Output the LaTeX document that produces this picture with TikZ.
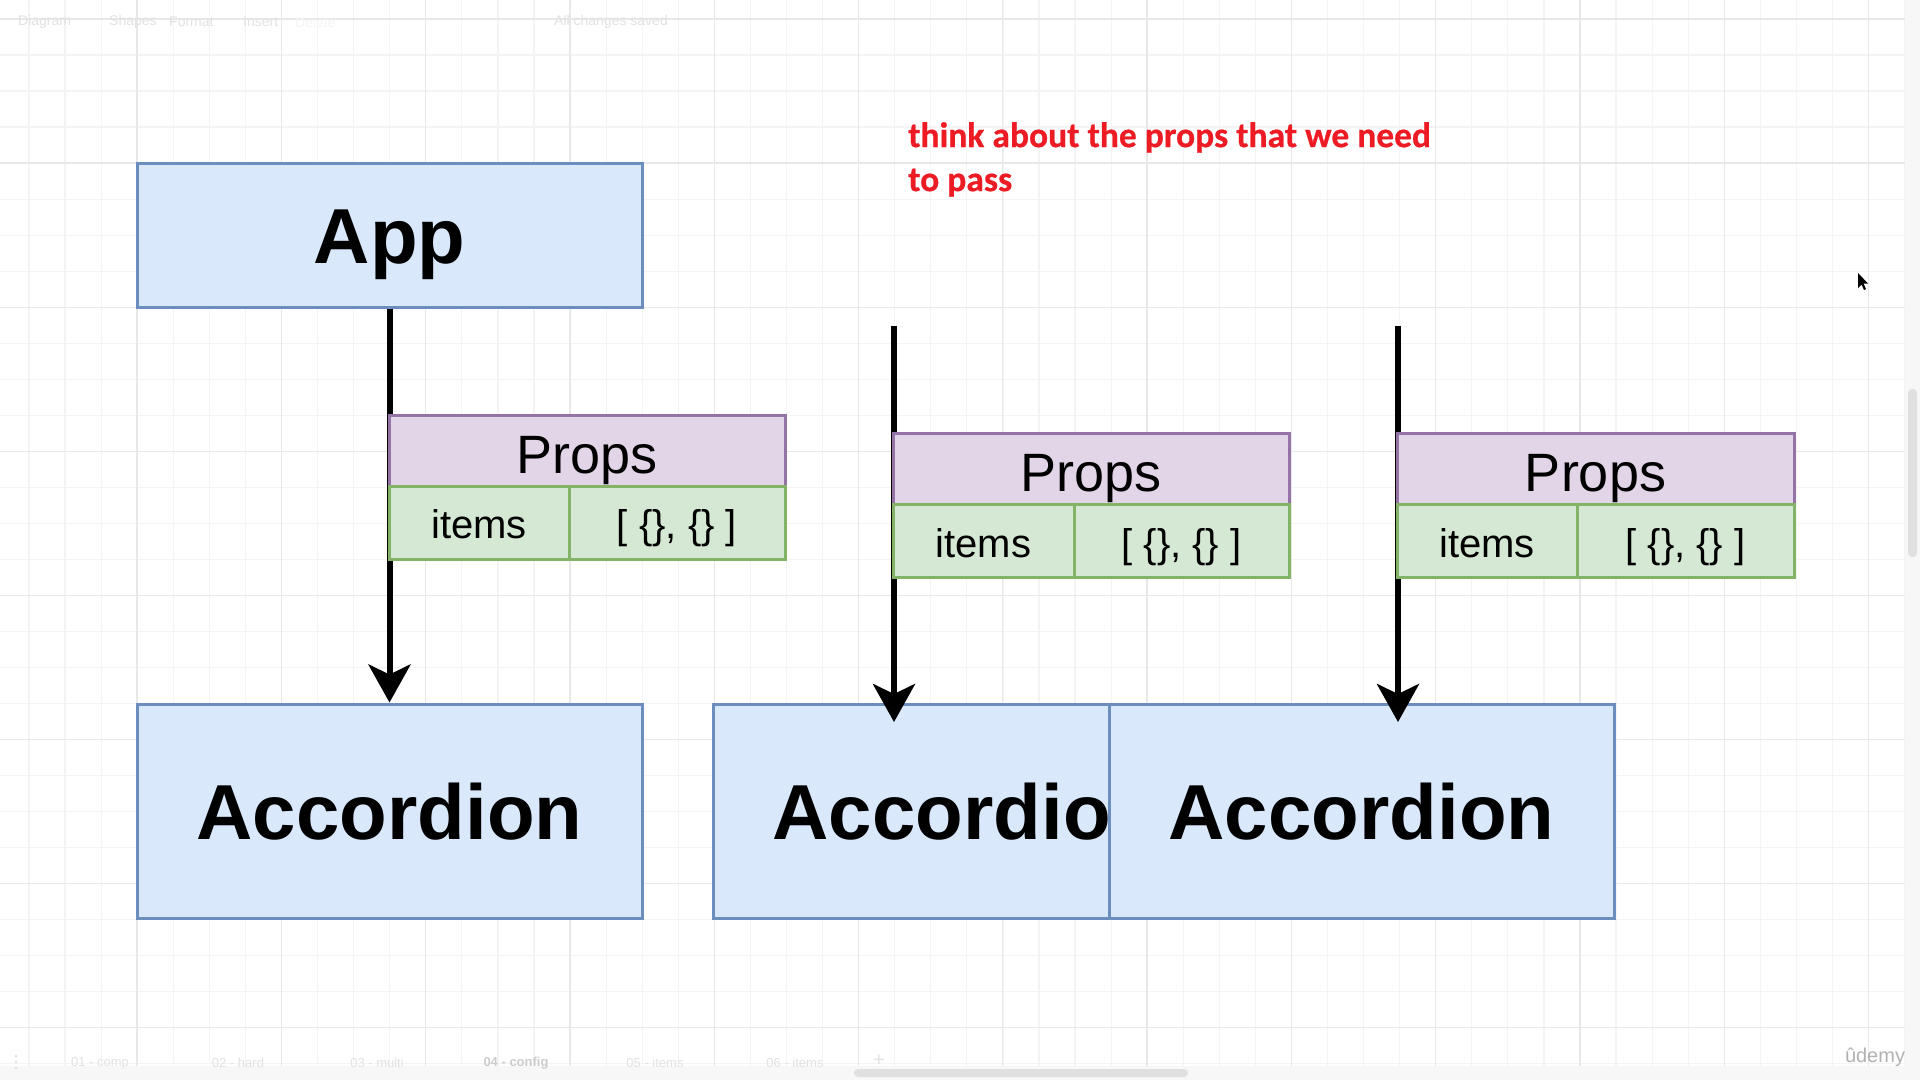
\documentclass[tikz,border=0pt]{standalone}
\usepackage{fontspec}
\setmainfont{Liberation Sans}
\newfontfamily\calib[FakeBold=0.6]{Carlito}
\usetikzlibrary{arrows.meta}
\definecolor{compfill}{HTML}{DAE8FC}
\definecolor{compline}{HTML}{6C8EBF}
\definecolor{propfill}{HTML}{E1D5E7}
\definecolor{propline}{HTML}{9673A6}
\definecolor{grnfill}{HTML}{D5E8D4}
\definecolor{grnline}{HTML}{82B366}
\definecolor{notered}{HTML}{ED1C24}
\definecolor{minorg}{HTML}{F4F4F4}
\definecolor{majorg}{HTML}{E8E8E8}
\definecolor{uitext}{HTML}{E2E2E2}
\begin{document}
\begin{tikzpicture}[x=1pt,y=-1pt,
  comp/.style={draw=compline, fill=compfill, line width=3pt, inner sep=0pt,
    font=\fontsize{78}{80}\selectfont\bfseries, text height=56pt, text depth=0pt},
  hdr/.style={draw=propline, fill=propfill, line width=3pt, inner sep=0pt, outer sep=0pt, anchor=north west,
    minimum height=71pt, font=\fontsize{54}{56}\selectfont, text height=45pt, text depth=0pt},
  cell/.style={draw=grnline, fill=grnfill, line width=3pt, inner sep=0pt, outer sep=0pt, anchor=north west,
    minimum height=73pt, font=\fontsize{40}{42}\selectfont, text height=32pt, text depth=0pt},
  arr/.style={line width=6pt, -{Stealth[length=38pt, width=42pt, inset=10pt]}},
  minorl/.style={draw=minorg, line width=1.2pt},
  majorl/.style={draw=majorg, line width=1.3pt},
  ui/.style={text=uitext, font=\fontsize{14}{16}\selectfont, inner sep=0pt},
  tab/.style={text=uitext, font=\fontsize{13}{15}\selectfont, inner sep=0pt}
]
\useasboundingbox (0,0) rectangle (1920,1080);
\fill[white] (0,0) rectangle (1920,1080);
% grid
\foreach \k in {0,...,52} {\pgfmathsetmacro\xx{29+36.07*\k} \draw[minorl] (\xx,0) -- (\xx,1066);}
\foreach \k in {0,...,29} {\pgfmathsetmacro\yy{19+36.03*\k} \draw[minorl] (0,\yy) -- (1905,\yy);}
\foreach \k in {0,...,12} {\pgfmathsetmacro\xx{137+144.3*\k} \draw[majorl] (\xx,0) -- (\xx,1066);}
\foreach \k in {0,...,7} {\pgfmathsetmacro\yy{19+144.1*\k} \draw[majorl] (0,\yy) -- (1905,\yy);}
% ui chrome
\fill[black!3] (0,1066) rectangle (1920,1080);
\fill[black!3] (1905,0) rectangle (1920,1080);
\fill[black!12, rounded corners=4pt] (854,1069) rectangle (1188,1077);
\fill[black!12, rounded corners=4pt] (1908,389) rectangle (1917,557);
\node[ui, anchor=west] (tDiagram) at (18,22) {Diagram};
\node[ui, anchor=west] (tShapes) at (109,22) {Shapes};
\node[ui, anchor=west] (tFormat) at (169,22) {Format};
\node[ui, anchor=west] (tInsert) at (243,22) {Insert};
\node[ui, anchor=west, text=black!4] (tDelete) at (295,22) {Delete};
\node[ui, anchor=west] (tSaved) at (554,22) {All changes saved};
\node[tab] (tab1) at (100,1063) {01 - comp};
\node[tab] (tab2) at (238,1063) {02 - hard};
\node[tab] (tab3) at (377,1063) {03 - multi};
\node[tab, text=black!20, font=\fontsize{13}{15}\selectfont\bfseries] (tab4) at (516,1063) {04 - config};
\node[tab] (tab5) at (655,1063) {05 - items};
\node[tab] (tab6) at (795,1063) {06 - items};
\node[tab, font=\fontsize{20}{20}\selectfont] (tabplus) at (879,1061) {+};
\foreach \d in {1056,1062,1068} \fill[uitext] (16,\d) circle (1.5);
\node[text=black!30, font=\fontsize{20}{22}\selectfont, inner sep=0pt] (udemy) at (1875,1057) {ûdemy};
% cursor
\fill[black] (1858,273) -- (1858,288) -- (1861.5,284.5) -- (1864,290) -- (1866,289) -- (1863.5,283.5) -- (1868,283.5) -- cycle;
% components
\node[comp, minimum width=505pt, minimum height=214pt] (acc2) at (965.5,811) {Accordion};
\node[comp, minimum width=505pt, minimum height=214pt] (acc3) at (1361.5,811) {Accordion};
\node[comp, minimum width=505pt, minimum height=214pt] (acc1) at (389.5,811) {Accordion};
\node[comp, minimum width=505pt, minimum height=144pt] (app) at (389.5,235) {App};
% arrows
\coordinate (s2) at (894,326);
\coordinate (e2) at (894,722);
\coordinate (s3) at (1398,326);
\coordinate (e3) at (1398,722);
\draw[arr] (app.south) -- (acc1.north);
\draw[arr] (s2) -- (e2);
\draw[arr] (s3) -- (e3);
% props 1
\node[hdr, minimum width=396pt] (p1) at (389,415) {Props};
\node[cell, minimum width=180pt] (p1k) at (p1.south west) {items};
\node[cell, minimum width=216pt] (p1v) at (p1k.north east) {[ \{\}, \{\} ]};
% props 2
\node[hdr, minimum width=396pt] (p2) at (893,433.5) {Props};
\node[cell, minimum width=181pt] (p2k) at (p2.south west) {items};
\node[cell, minimum width=215pt] (p2v) at (p2k.north east) {[ \{\}, \{\} ]};
% props 3
\node[hdr, minimum width=397pt] (p3) at (1397,433.5) {Props};
\node[cell, minimum width=180pt] (p3k) at (p3.south west) {items};
\node[cell, minimum width=217pt] (p3v) at (p3k.north east) {[ \{\}, \{\} ]};
% note
\node[anchor=north west, inner sep=0pt, align=left, text=notered,
  font=\calib\bfseries\fontsize{35.5}{44}\selectfont] (note) at (908,122)
  {think about the props that we need\\to pass};
\end{tikzpicture}
\end{document}
